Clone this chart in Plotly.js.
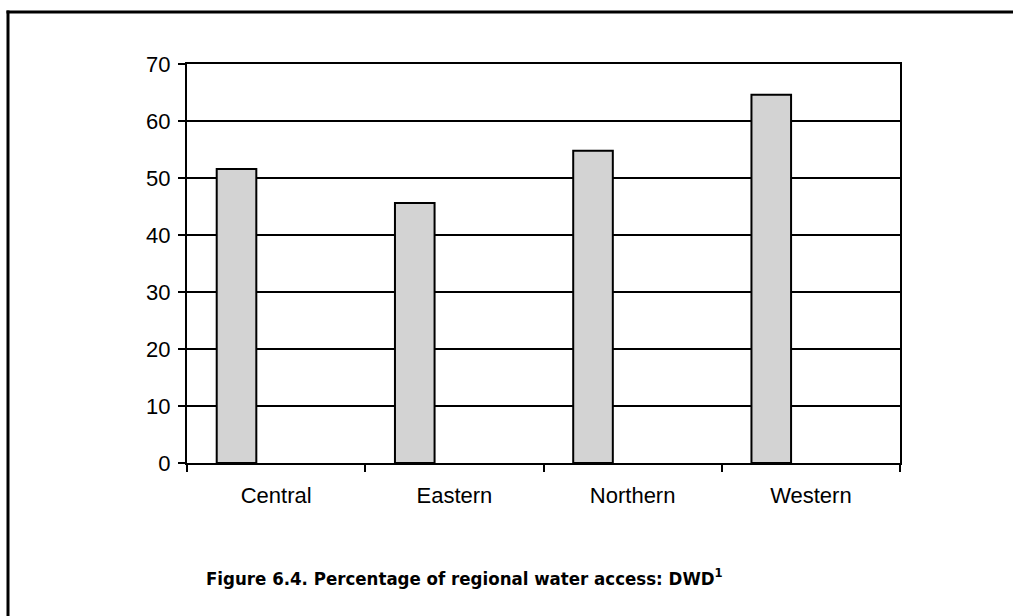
<!DOCTYPE html>
<html>
<head>
<meta charset="utf-8">
<script src="https://cdn.plot.ly/plotly-3.0.1.min.js"></script>
<style>
html,body{margin:0;padding:0;background:#fff;}
#chart{width:1013px;height:616px;}
</style>
</head>
<body>
<div id="chart"></div>
<script>
const regions = ["Central", "Eastern", "Northern", "Western"];
const waterAccess = [51.6, 45.6, 54.8, 64.6];
const yTicks = [0, 10, 20, 30, 40, 50, 60, 70];
const captionText = "Figure 6.4. Percentage of regional water access: DWD<sup>1</sup>";

const L = 187, R = 900, T = 64, B = 463, W = 1013, H = 616;
const px = v => (v - L) / (R - L);
const py = v => (B - v) / (B - T);

const trace = {
  type: "bar",
  x: regions,
  y: waterAccess,
  width: 2/9,
  offset: -1/3,
  marker: {color: "#d3d3d3", line: {color: "#000", width: 2}},
  hoverinfo: "x+y"
};

const layout = {
  width: W, height: H,
  margin: {l: L, r: W - R, t: T, b: H - B, pad: 0},
  paper_bgcolor: "#fff",
  plot_bgcolor: "#fff",
  showlegend: false,
  font: {family: "Liberation Sans, Arial, sans-serif", size: 22, color: "#000"},
  xaxis: {
    type: "category",
    range: [-0.5, 3.5],
    showline: true, linecolor: "#000", linewidth: 2,
    mirror: true,
    ticks: "outside", tickson: "boundaries", ticklen: 7, tickwidth: 2, tickcolor: "#000",
    showgrid: false, zeroline: false,
    tickfont: {size: 22, color: "#000"},
    ticklabelstandoff: 12
  },
  yaxis: {
    range: [0, 70],
    tickvals: yTicks,
    ticktext: yTicks.map(String),
    showline: true, linecolor: "#000", linewidth: 2,
    mirror: true,
    ticks: "outside", ticklen: 7, tickwidth: 2, tickcolor: "#000",
    showgrid: true, gridcolor: "#000", gridwidth: 2,
    zeroline: false,
    tickfont: {size: 22, color: "#000"},
    ticklabelstandoff: 3
  },
  annotations: [{
    text: captionText,
    xref: "paper", yref: "paper",
    x: px(464.5), y: py(577),
    xanchor: "center", yanchor: "middle",
    showarrow: false,
    font: {family: "DejaVu Sans Condensed, Liberation Sans Narrow, Arial Narrow, sans-serif", size: 18.5, color: "#000", weight: "bold"}
  }],
  shapes: [
    {type: "line", xref: "paper", yref: "paper", x0: px(6.5), x1: px(W + 2), y0: py(12), y1: py(12), line: {color: "#000", width: 3}},
    {type: "line", xref: "paper", yref: "paper", x0: px(8), x1: px(8), y0: py(10.5), y1: py(H + 2), line: {color: "#000", width: 3}}
  ]
};

Plotly.newPlot("chart", [trace], layout, {displayModeBar: false, staticPlot: true});
</script>
</body>
</html>
